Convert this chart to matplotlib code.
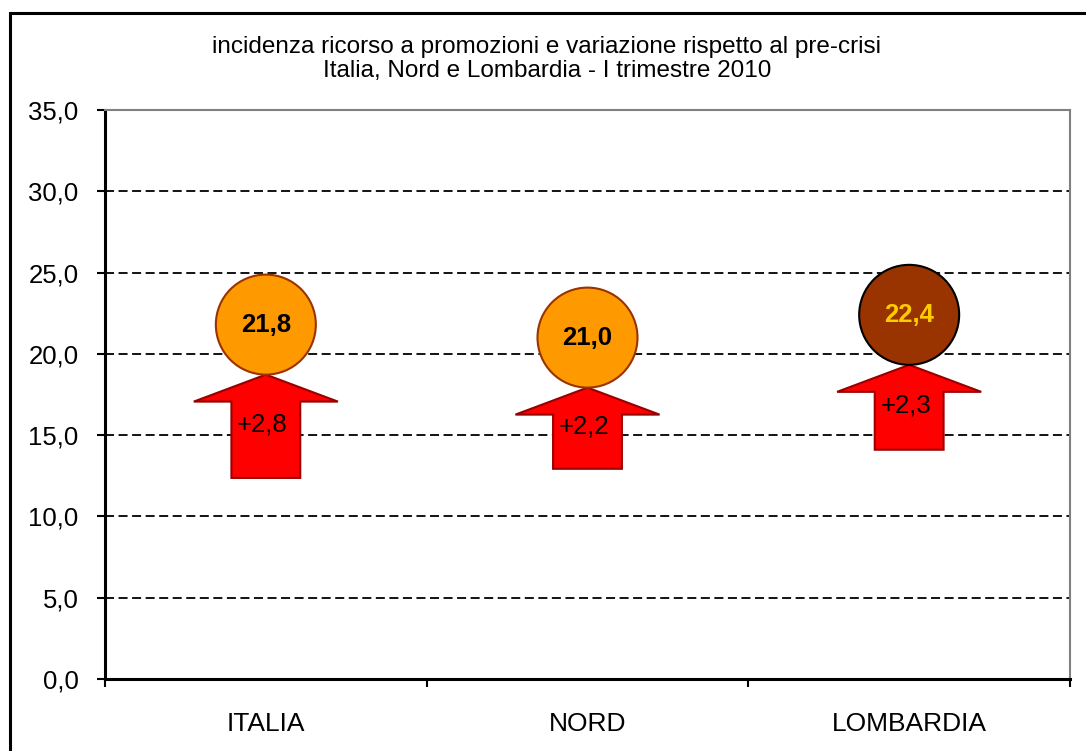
import numpy as np
import matplotlib.pyplot as plt
from matplotlib.lines import Line2D

plt.rcParams['font.family'] = ['Liberation Sans', 'DejaVu Sans']

# data
regions = ['ITALIA', 'NORD', 'LOMBARDIA']
incidence = [21.8, 21.0, 22.4]          # % ricorso a promozioni
delta_precrisi = [2.8, 2.2, 2.3]        # variazione rispetto al pre-crisi
circle_fill = ['#FF9900', '#FF9900', '#993300']
circle_edge = ['#993300', '#993300', '#000000']
circle_text = ['#000000', '#000000', '#FFCC00']
yticks = [0, 5, 10, 15, 20, 25, 30, 35]

title_1 = 'incidenza ricorso a promozioni e variazione rispetto al pre-crisi'
title_2 = 'Italia, Nord e Lombardia - I trimestre 2010'

W, H = 1086, 751
fig = plt.figure(figsize=(W / 100, H / 100), dpi=100)
ax = fig.add_axes([105 / W, 1 - 679 / H, 965 / W, 569 / H])

# outer chart border (only top and left edges are in the frame)
fig.add_artist(Line2D([10 / W, 10 / W, 1], [0, 1 - 13 / H, 1 - 13 / H],
                      transform=fig.transFigure, color='black',
                      linewidth=2.2, solid_joinstyle='miter'))

x = np.arange(len(regions)) + 0.5
ax.set_xlim(0, len(regions))
ax.set_ylim(0, 35)

# grid lines
for v in yticks[1:-1]:
    ax.axhline(v, color='black', linewidth=1.3, dashes=(5, 2.5), zorder=1)

# arrows (length proportional to the change)
px_per_unit = 569 / 35
r_data = 50 / px_per_unit
head_h = 27 / px_per_unit
for xi, v, d in zip(x, incidence, delta_precrisi):
    tip = v - r_data
    base = tip - d * 2.27
    hw, sw = 0.224, 0.107
    pts = [(xi, tip), (xi + hw, tip - head_h), (xi + sw, tip - head_h),
           (xi + sw, base), (xi - sw, base), (xi - sw, tip - head_h),
           (xi - hw, tip - head_h)]
    ax.add_patch(plt.Polygon(pts, closed=True, facecolor='#FF0000',
                             edgecolor='#990000', linewidth=1.5, zorder=3))
    ax.text(xi - 0.01, (tip + base) / 2 + 0.1,
            '+' + f'{d:.1f}'.replace('.', ','),
            ha='center', va='center', fontsize=18.5, color='black', zorder=5)

# circles
ax.scatter(x, incidence, s=72**2, c=circle_fill, edgecolors=circle_edge,
           linewidths=1.5, zorder=4)
for xi, v, tc in zip(x, incidence, circle_text):
    ax.text(xi, v, f'{v:.1f}'.replace('.', ','), ha='center', va='center',
            fontsize=18.5, fontweight='bold', color=tc, zorder=5)

# axes styling
ax.set_yticks(yticks)
ax.set_yticklabels([f'{t:.1f}'.replace('.', ',') for t in yticks])
ax.set_xticks([0.5, 1.5, 2.5])
ax.set_xticklabels(regions)
ax.set_xticks([0, 1, 2, 3], minor=True)
ax.tick_params(axis='x', which='major', length=0, pad=24, labelsize=19)
ax.tick_params(axis='x', which='minor', length=6, width=1.5, direction='out')
ax.tick_params(axis='y', length=6, width=1.5, direction='out', pad=13,
               labelsize=18.5)
ax.spines['left'].set_linewidth(2.2)
ax.spines['bottom'].set_linewidth(2.2)
for s in ['top', 'right']:
    ax.spines[s].set_color('#808080')
    ax.spines[s].set_linewidth(1.5)

fig.text(547 / W, 1 - 47 / H, title_1, ha='center', va='center', fontsize=17.5)
fig.text(547 / W, 1 - 71 / H, title_2, ha='center', va='center', fontsize=17.5)

fig.savefig('out.png', dpi=100)
